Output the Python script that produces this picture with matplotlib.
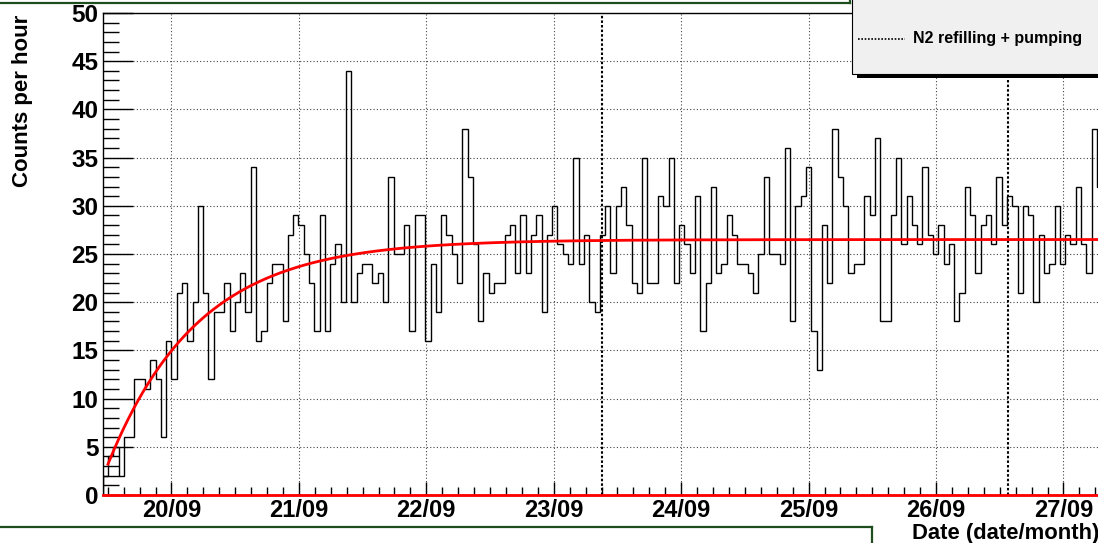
"""
Counts per hour histogram with saturation fit and N2 refilling markers.
"""

from datetime import datetime, timedelta

import numpy as np
import matplotlib
matplotlib.use("Agg")
import matplotlib.pyplot as plt
import matplotlib.dates as mdates
from matplotlib.lines import Line2D
from matplotlib.patches import Rectangle
from matplotlib.ticker import MultipleLocator


# hourly counts, first bin starts at hist_start
counts = [
    2, 4, 5, 2, 6, 6, 12, 12, 11, 14,
    12, 6, 16, 12, 21, 22, 16, 20, 30, 21,
    12, 19, 19, 22, 17, 20, 23, 19, 34, 16,
    17, 22, 24, 24, 18, 27, 29, 28, 25, 22,
    17, 29, 17, 24, 26, 20, 44, 20, 23, 24,
    24, 22, 23, 20, 33, 25, 25, 28, 17, 29,
    29, 16, 24, 19, 29, 27, 25, 22, 38, 33,
    26, 18, 23, 21, 22, 22, 27, 28, 23, 29,
    23, 27, 29, 19, 27, 30, 26, 25, 24, 35,
    24, 27, 20, 19, 27, 30, 23, 30, 32, 28,
    22, 21, 35, 22, 22, 31, 30, 35, 22, 28,
    26, 23, 31, 17, 22, 32, 23, 24, 29, 27,
    24, 24, 23, 21, 25, 33, 25, 25, 24, 36,
    18, 30, 31, 34, 17, 13, 28, 22, 38, 33,
    30, 23, 24, 24, 31, 29, 37, 18, 18, 29,
    35, 26, 31, 28, 26, 34, 27, 25, 28, 24,
    26, 18, 21, 32, 29, 23, 28, 29, 26, 33,
    28, 31, 30, 21, 30, 29, 20, 27, 23, 24,
    30, 24, 27, 26, 32, 26, 23, 38, 32,
]

bin_hours = 0.996
hist_start = datetime(2011, 9, 20) - timedelta(hours=13 * bin_hours)

# fit: plateau - (plateau - start) * exp(-t / tau), t in hours from 2nd bin
fit_plateau = 26.5
fit_start_value = 3.2
fit_tau_hours = 17.0

n2_refills = [datetime(2011, 9, 23, 9, 0), datetime(2011, 9, 26, 13, 30)]
legend_label = "N2 refilling + pumping"

W, H = 1098, 543
FONT = "Liberation Sans"


def fx(px):
    return px / W


def fy(py):
    return 1 - py / H


def main():
    fig = plt.figure(figsize=(W / 100, H / 100), dpi=100)
    fig.patch.set_facecolor("white")

    span_days = 7.95
    ax = fig.add_axes([fx(102.7), fy(495), span_days * 127.43 / W, 482 / H])

    edges = [hist_start + timedelta(hours=i * bin_hours) for i in range(len(counts) + 1)]
    edges_num = mdates.date2num(edges)
    x0 = edges_num[0]
    x1 = x0 + span_days

    ax.stairs(counts, edges_num, baseline=0, color="black", lw=1.0, zorder=3)

    fit_x0 = edges_num[1]
    t = np.linspace(0, (x1 - fit_x0) * 24, 600)
    fit_y = fit_plateau - (fit_plateau - fit_start_value) * np.exp(-t / fit_tau_hours)
    ax.plot(fit_x0 + t / 24, fit_y, color="red", lw=2.0, zorder=4)
    ax.axhline(0, color="red", lw=2.0, zorder=5, clip_on=False)

    for d in n2_refills:
        ax.axvline(mdates.date2num(d), color="black", lw=1.5,
                   linestyle=(0, (1.2, 1.0)), zorder=2)

    ax.set_xlim(x0, x1)
    ax.set_ylim(0, 50)

    ax.xaxis.set_major_locator(mdates.DayLocator())
    ax.xaxis.set_major_formatter(mdates.DateFormatter("%d/%m"))
    ax.xaxis.set_minor_locator(mdates.HourLocator(byhour=range(0, 24, 3)))
    ax.yaxis.set_major_locator(MultipleLocator(5))
    ax.yaxis.set_minor_locator(MultipleLocator(1))

    ax.grid(True, which="major", color="#444444", lw=0.8, linestyle=(0, (1, 2)))
    ax.set_axisbelow(True)

    ax.tick_params(axis="y", which="major", direction="in", length=21.6, width=1, pad=3)
    ax.tick_params(axis="y", which="minor", direction="in", length=11.5, width=1)
    ax.tick_params(axis="x", which="major", direction="in", length=9.4, width=1, pad=3)
    ax.tick_params(axis="x", which="minor", direction="in", length=5.8, width=1)
    for lab in ax.get_yticklabels():
        lab.set_fontfamily(FONT)
        lab.set_fontweight("bold")
        lab.set_fontsize(17.5)
    for lab in ax.get_xticklabels():
        lab.set_fontfamily(FONT)
        lab.set_fontweight("bold")
        lab.set_fontsize(17)
    for side in ["left", "top", "bottom"]:
        ax.spines[side].set_linewidth(1.0)

    fig.text(fx(23), fy(15), "Counts per hour", rotation=90, ha="center", va="top",
             fontfamily=FONT, fontweight="bold", fontsize=16)
    fig.text(fx(912), fy(533), "Date (date/month)", ha="left", va="center",
             fontfamily=FONT, fontweight="bold", fontsize=15.8)

    # green pad borders
    green = "#1e4d1e"
    fig.add_artist(Line2D([fx(0), fx(850)], [fy(3), fy(3)], color=green, lw=1.6))
    fig.add_artist(Line2D([fx(850), fx(850)], [fy(0), fy(3)], color=green, lw=1.6))
    fig.add_artist(Line2D([fx(0), fx(872)], [fy(527), fy(527)], color=green, lw=1.6))
    fig.add_artist(Line2D([fx(872), fx(872)], [fy(527), fy(545)], color=green, lw=1.6))

    # legend box with shadow
    fig.add_artist(Rectangle((fx(857), fy(78)), fx(260), 4 / H, facecolor="black",
                             edgecolor="none", zorder=10))
    fig.add_artist(Rectangle((fx(852), fy(74)), fx(260), 80 / H, facecolor="#f0f0f0",
                             edgecolor="black", lw=0.8, zorder=11))
    fig.add_artist(Line2D([fx(858), fx(905)], [fy(39), fy(39)], color="black", lw=1.2,
                          linestyle=(0, (1, 1)), zorder=12))
    fig.text(fx(913), fy(39), legend_label, ha="left", va="center", fontfamily=FONT,
             fontweight="bold", fontsize=11.5, zorder=12)

    fig.savefig("out.png", dpi=100)


if __name__ == "__main__":
    main()
